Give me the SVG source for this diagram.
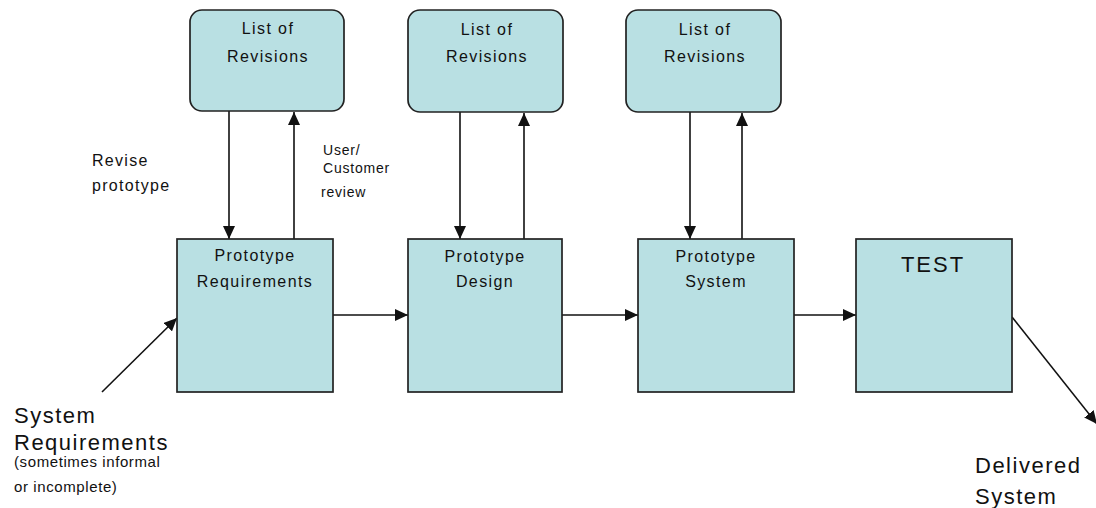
<svg xmlns="http://www.w3.org/2000/svg" width="1096" height="508" viewBox="0 0 1096 508">
<style>
.box{fill:#b9e0e3;stroke:#222;stroke-width:1.7}
.t{font-family:"Liberation Sans",Arial,sans-serif;fill:#111}
.in{font-size:16px;letter-spacing:1.4px;text-anchor:middle}
.lbl{font-size:16px;letter-spacing:1.3px}
.big{font-size:22px;letter-spacing:1.5px}
.sm{font-size:15px;letter-spacing:0.6px}
.c{stroke:#111;stroke-width:1.6;fill:none;marker-end:url(#ah)}
</style>
<defs>
<marker id="ah" markerUnits="userSpaceOnUse" markerWidth="14" markerHeight="12" refX="13" refY="6" orient="auto">
<path d="M0,0 L13,6 L0,12 Z" fill="#111"/>
</marker>
</defs>
<rect width="1096" height="508" fill="#ffffff"/>
<g id="connectors">
<line class="c" x1="229" y1="111" x2="229" y2="239"/>
<line class="c" x1="294" y1="239" x2="294" y2="112"/>
<line class="c" x1="460" y1="112" x2="460" y2="239"/>
<line class="c" x1="524" y1="239" x2="524" y2="113"/>
<line class="c" x1="690" y1="112" x2="690" y2="239"/>
<line class="c" x1="742" y1="239" x2="742" y2="113"/>
<line class="c" x1="333" y1="315" x2="408" y2="315"/>
<line class="c" x1="562" y1="315" x2="638" y2="315"/>
<line class="c" x1="794" y1="315" x2="856" y2="315"/>
<line class="c" x1="102" y1="392" x2="177" y2="318"/>
<line class="c" x1="1012" y1="317" x2="1097" y2="424"/>
</g>
<g id="rev1">
<rect class="box" x="190" y="10" width="154" height="101" rx="12"/>
<text class="t in" x="268" y="34">List of</text>
<text class="t in" x="268" y="62">Revisions</text>
</g>
<g id="rev2">
<rect class="box" x="408" y="10" width="155" height="102" rx="12"/>
<text class="t in" x="487" y="35">List of</text>
<text class="t in" x="487" y="62">Revisions</text>
</g>
<g id="rev3">
<rect class="box" x="626" y="10" width="155" height="102" rx="12"/>
<text class="t in" x="705" y="35">List of</text>
<text class="t in" x="705" y="62">Revisions</text>
</g>
<g id="proto-req">
<rect class="box" x="177" y="239" width="156" height="153"/>
<text class="t in" x="255" y="261">Prototype</text>
<text class="t in" x="255" y="287">Requirements</text>
</g>
<g id="proto-design">
<rect class="box" x="408" y="239" width="154" height="153"/>
<text class="t in" x="485" y="262">Prototype</text>
<text class="t in" x="485" y="287">Design</text>
</g>
<g id="proto-system">
<rect class="box" x="638" y="239" width="156" height="153"/>
<text class="t in" x="716" y="262">Prototype</text>
<text class="t in" x="716" y="287">System</text>
</g>
<g id="test">
<rect class="box" x="856" y="239" width="156" height="153"/>
<text class="t" x="933" y="272" font-size="22" letter-spacing="2" text-anchor="middle">TEST</text>
</g>
<g id="labels">
<text class="t lbl" x="92" y="166">Revise</text>
<text class="t lbl" x="92" y="191">prototype</text>
<text class="t" x="323" y="155" font-size="14" letter-spacing="0.8">User/</text>
<text class="t" x="323" y="173" font-size="14" letter-spacing="0.8">Customer</text>
<text class="t" x="321" y="197" font-size="14" letter-spacing="0.8">review</text>
<text class="t big" x="14" y="423">System</text>
<text class="t big" x="14" y="450">Requirements</text>
<text class="t sm" x="14" y="467">(sometimes informal</text>
<text class="t sm" x="14" y="492">or incomplete)</text>
<text class="t big" x="975" y="473">Delivered</text>
<text class="t big" x="975" y="504">System</text>
</g>
</svg>
